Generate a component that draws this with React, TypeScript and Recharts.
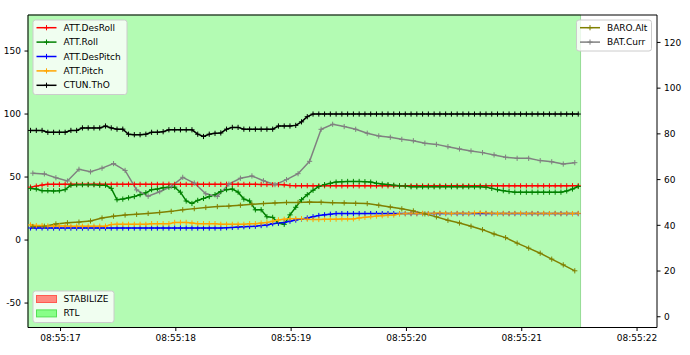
import React from 'react';
import { LineChart, Line, XAxis, YAxis, ReferenceArea, ReferenceLine } from 'recharts';

// ---- sampling (seconds after 08:55:00) ----
const ATT_T0 = 16.74;
const ATT_DT = 0.05;
const SLOW_T0 = 16.76;
const SLOW_DT = 0.1;

// ---- tick labels ----
const xTicks = [17, 18, 19, 20, 21, 22];
const leftTicks = [-50, 0, 50, 100, 150];
const rightTicks = [0, 20, 40, 60, 80, 100, 120];

// ---- ATT / CTUN values (left axis, 20 Hz) ----
const desRoll = [
  42, 42.8, 43.6, 44.2, 44.2, 44.2, 44.3, 44.3, 44.2, 44.2, 44.2, 44.3, 44.3, 44.2, 44.2, 44.2,
  44.2, 44.3, 44.3, 44.2, 44.2, 44.2, 44.2, 44.3, 44.3, 44.2, 44.2, 44.2, 44.2, 44.3, 44.2, 44.2,
  44.2, 44.2, 44.3, 44.2, 44.2, 44.2, 44.2, 44.2, 44.1, 44.1, 44.0, 44.0, 43.8, 43.2, 43.1, 43.1,
  43.1, 43.0, 43.0, 43.1, 43.1, 43.0, 43.0, 43.0, 43.1, 43.0, 43.0, 43.0, 43.0, 43.1, 43.0, 43.0,
  43.0, 43.0, 43.0, 43.1, 43.0, 43.0, 43.0, 43.0, 43.0, 43.1, 43.0, 43.0, 43.0, 43.0, 43.0, 43.0,
  43.1, 43.0, 43.0, 43.0, 43.0, 43.0, 43.0, 43.1, 43.0, 43.0, 43.0, 43.0, 43.0, 43.0, 43.1, 43.1,
];
const roll = [
  41, 40.5, 39.2, 39.2, 39, 39.2, 40, 43.5, 43.9, 43.9, 43.9, 43.9, 43.5, 43.5, 41, 32,
  32.5, 33.5, 34.5, 36, 37.5, 40, 40.5, 41.5, 42, 42, 38, 31, 29, 31.5, 33, 34.5,
  36, 38.5, 40, 40.5, 38, 32.5, 31, 24, 24, 18.5, 18, 13.5, 12.5, 20, 26, 32,
  36, 39.5, 42.5, 44, 45, 46, 46.3, 46.5, 46.5, 46.5, 46.3, 46, 45, 44.4, 44, 43.5,
  43, 42.9, 42.3, 42.3, 42.3, 42.3, 42.3, 42.3, 42.3, 42.3, 42.3, 42.3, 42.3, 42.3, 42.3, 42,
  41, 40, 39.2, 38.5, 38, 38, 38, 38, 38, 38, 38, 38, 38, 39, 40.5, 42.5,
];
const desPitch = [
  9.6, 9.6, 9.6, 9.5, 9.5, 9.5, 9.5, 9.5, 9.5, 9.5, 9.5, 9.5, 9.5, 9.5, 9.5, 9.5,
  9.5, 9.5, 9.5, 9.5, 9.5, 9.5, 9.5, 9.5, 9.5, 9.5, 9.5, 9.5, 9.5, 9.5, 9.5, 9.5,
  9.5, 9.5, 9.8, 10, 10.3, 10.6, 10.8, 11, 11.5, 12, 13, 13.5, 14, 15, 15.9, 16.8,
  17.5, 18.5, 19.5, 20, 20.5, 21, 21, 21, 21, 21, 21, 21, 21, 21, 21, 21,
  21, 21, 21, 21, 21, 21, 21, 21, 21, 21, 21, 21, 21, 21, 21, 21,
  21, 21, 21, 21, 21, 21, 21, 21, 21, 21, 21, 21, 21, 21, 21, 21,
];
const pitch = [
  12, 11.5, 11.5, 11.2, 11.2, 11.2, 11.2, 11, 11, 11, 11, 11, 11, 11, 12.3, 12.5,
  12.5, 12.5, 12.5, 12.5, 12.5, 13, 13, 13, 13, 14, 14, 14, 13.5, 13, 13, 13,
  13, 12.5, 12.5, 12.5, 12.5, 12.5, 13, 13, 13.5, 14, 15, 16, 16.5, 17, 17, 17,
  16.5, 16.3, 16.3, 16.5, 16.5, 16.6, 16.8, 16.8, 16.8, 17.5, 18, 18.5, 19, 19.3, 19.6, 19.8,
  20.8, 21, 21.2, 21, 21.2, 21, 21.2, 21.4, 21.2, 21, 21.2, 21.2, 21, 21.4, 21.6, 21.4,
  21.2, 21, 21.2, 21, 21.2, 21.2, 21, 21.2, 21, 21.2, 21, 21.2, 21, 21.2, 21, 21.2,
];
const thO = [
  87, 87, 87, 85.5, 85.5, 85.5, 85.5, 87, 87, 89, 89, 89, 89, 90.5, 89, 88,
  88, 84, 83.6, 83.6, 84, 85.5, 85.5, 86, 87.5, 87.5, 87.5, 87.5, 87.5, 84, 82.2, 84,
  84.7, 85, 88, 89.4, 89.4, 88, 88, 88, 88, 88, 88, 90.5, 90.5, 90.5, 91, 93.8,
  97.9, 100, 100, 100, 100, 100, 100, 100, 100, 100, 100, 100, 100, 100, 100, 100,
  100, 100, 100, 100, 100, 100, 100, 100, 100, 100, 100, 100, 100, 100, 100, 100,
  100, 100, 100, 100, 100, 100, 100, 100, 100, 100, 100, 100, 100, 100, 100, 100,
];

// ---- BARO / BAT values (right axis, 10 Hz) ----
const baroAlt = [
  39.5, 39.6, 40.6, 41.1, 41.4, 41.9, 43.2, 44, 44.5, 44.8, 45.2, 45.6, 46.1, 46.8, 47.3, 47.8,
  48.2, 48.4, 48.8, 49.2, 49.5, 49.8, 50, 50, 50.2, 50.1, 49.9, 49.8, 49.6, 49.5, 48.8, 48,
  47.2, 46.3, 45, 43.7, 42.2, 41, 39.6, 38.1, 36.2, 34.6, 32.2, 30, 27.8, 25.2, 22.7, 20.1,
];
const batCurr = [
  62.8, 62.5, 60.8, 59.4, 64.5, 63.4, 65, 67, 64, 55.5, 52.7, 54.7, 57, 61, 58.5, 53.8,
  52.6, 58, 60.6, 61.6, 59.5, 57.8, 60, 62.6, 68, 82, 84.2, 83.2, 82, 80.3, 79.1, 78.5,
  77.6, 77, 75.9, 75.4, 74.4, 73.4, 72.5, 71.8, 70.8, 69.8, 69.3, 69.3, 68.3, 67.8, 66.8, 67.4,
];

// ---- mode spans ----
const rtlStart = 16.718;
const rtlEnd = 21.51;

const X_DOMAIN: [number, number] = [16.718, 22.173];
const LEFT_DOMAIN: [number, number] = [-69.4, 178.6];
const RIGHT_DOMAIN: [number, number] = [-4.7, 132];

const toSeries = (t0: number, dt: number, vals: number[]) =>
  vals.map((v, i) => ({ t: Math.round((t0 + i * dt) * 1000) / 1000, v }));

const sDesRoll = toSeries(ATT_T0, ATT_DT, desRoll);
const sRoll = toSeries(ATT_T0, ATT_DT, roll);
const sDesPitch = toSeries(ATT_T0, ATT_DT, desPitch);
const sPitch = toSeries(ATT_T0, ATT_DT, pitch);
const sThO = toSeries(ATT_T0, ATT_DT, thO);
const sBaro = toSeries(SLOW_T0, SLOW_DT, baroAlt);
const sBat = toSeries(SLOW_T0, SLOW_DT, batCurr);

const FONT = '"DejaVu Sans", sans-serif';
const H = 2.6;

const plus = (color: string) => (props: any) => {
  const { cx, cy, index } = props;
  if (cx == null || cy == null) return <g key={`p${index}`} />;
  return (
    <path
      key={`p${index}`}
      d={`M${cx - H},${cy}H${cx + H}M${cx},${cy - H}V${cy + H}`}
      stroke={color}
      strokeWidth={1}
      fill="none"
    />
  );
};

const leftSeries = [
  { name: 'ATT.DesRoll', color: '#ff0000', data: sDesRoll },
  { name: 'ATT.Roll', color: '#008000', data: sRoll },
  { name: 'ATT.DesPitch', color: '#0000ff', data: sDesPitch },
  { name: 'ATT.Pitch', color: '#ffa500', data: sPitch },
  { name: 'CTUN.ThO', color: '#000000', data: sThO },
];
const rightSeries = [
  { name: 'BARO.Alt', color: '#808000', data: sBaro },
  { name: 'BAT.Curr', color: '#808080', data: sBat },
];
const modes = [
  { name: 'STABILIZE', fill: '#ff8a80', stroke: '#ff5a50' },
  { name: 'RTL', fill: '#88ff88', stroke: '#55e055' },
];

const tickStyle = { fill: '#000', fontSize: 9, fontFamily: FONT };

function LegendRow({ x, y, color, label }: { x: number; y: number; color: string; label: string }) {
  return (
    <g>
      <line x1={x} x2={x + 20} y1={y} y2={y} stroke={color} strokeWidth={1.5} />
      <path d={`M${x + 10 - H},${y}H${x + 10 + H}M${x + 10},${y - H}V${y + H}`} stroke={color} strokeWidth={1} />
      <text x={x + 27} y={y} dominantBaseline="central" fontSize={9} fontFamily={FONT} fill="#000">
        {label}
      </text>
    </g>
  );
}

export default function App() {
  return (
    <div style={{ position: 'absolute', left: 0, top: 0, width: 690, height: 355, background: '#fff', fontFamily: FONT }}>
      <LineChart width={690} height={355} data={sDesRoll} margin={{ top: 15, right: 0, bottom: 0, left: 0 }}>
        <XAxis
          xAxisId="x"
          type="number"
          dataKey="t"
          domain={X_DOMAIN}
          allowDataOverflow
          ticks={xTicks}
          tickFormatter={(t: number) => `08:55:${t}`}
          height={27.5}
          tickSize={3.5}
          tickMargin={4}
          tick={tickStyle}
          axisLine={{ stroke: '#000' }}
          tickLine={{ stroke: '#000' }}
        />
        <YAxis
          yAxisId="left"
          orientation="left"
          type="number"
          domain={LEFT_DOMAIN}
          allowDataOverflow
          ticks={leftTicks}
          width={28}
          tickSize={3.5}
          tickMargin={3.5}
          tick={tickStyle}
          axisLine={{ stroke: '#000' }}
          tickLine={{ stroke: '#000' }}
        />
        <YAxis
          yAxisId="right"
          orientation="right"
          type="number"
          domain={RIGHT_DOMAIN}
          allowDataOverflow
          ticks={rightTicks}
          width={33}
          tickSize={3.5}
          tickMargin={3.5}
          tick={tickStyle}
          axisLine={{ stroke: '#000' }}
          tickLine={{ stroke: '#000' }}
        />
        <ReferenceArea
          xAxisId="x"
          yAxisId="left"
          x1={rtlStart}
          x2={rtlEnd}
          fill="#b3fbb3"
          fillOpacity={1}
          stroke="#96dc96"
          strokeWidth={1}
        />
        <ReferenceLine xAxisId="x" yAxisId="left" y={LEFT_DOMAIN[1]} stroke="#000" strokeWidth={1} />
        {leftSeries.map((s) => (
          <Line
            key={s.name}
            xAxisId="x"
            yAxisId="left"
            data={s.data}
            dataKey="v"
            name={s.name}
            stroke={s.color}
            strokeWidth={1.5}
            dot={plus(s.color)}
            activeDot={false}
            isAnimationActive={false}
            type="linear"
          />
        ))}
        {rightSeries.map((s) => (
          <Line
            key={s.name}
            xAxisId="x"
            yAxisId="right"
            data={s.data}
            dataKey="v"
            name={s.name}
            stroke={s.color}
            strokeWidth={1.5}
            dot={plus(s.color)}
            activeDot={false}
            isAnimationActive={false}
            type="linear"
          />
        ))}
      </LineChart>
      <svg width={690} height={355} style={{ position: 'absolute', left: 0, top: 0, pointerEvents: 'none' }}>
        {/* left-axis legend */}
        <rect x={33} y={20} width={94} height={74.5} rx={2.5} fill="rgba(255,255,255,0.8)" stroke="#cccccc" strokeWidth={1} />
        {leftSeries.map((s, i) => (
          <LegendRow key={s.name} x={36.5} y={27.7 + i * 14.4} color={s.color} label={s.name} />
        ))}
        {/* right-axis legend */}
        <rect x={576.5} y={20} width={75} height={31} rx={2.5} fill="rgba(255,255,255,0.8)" stroke="#cccccc" strokeWidth={1} />
        {rightSeries.map((s, i) => (
          <LegendRow key={s.name} x={580} y={27.7 + i * 14.4} color={s.color} label={s.name} />
        ))}
        {/* mode legend */}
        <rect x={33} y={291} width={81} height={31.5} rx={2.5} fill="rgba(255,255,255,0.8)" stroke="#cccccc" strokeWidth={1} />
        {modes.map((m, i) => (
          <g key={m.name}>
            <rect x={36.5} y={295.5 + i * 14.4} width={20} height={7} fill={m.fill} stroke={m.stroke} strokeWidth={1} />
            <text x={63.5} y={299 + i * 14.4} dominantBaseline="central" fontSize={9} fontFamily={FONT} fill="#000">
              {m.name}
            </text>
          </g>
        ))}
      </svg>
    </div>
  );
}
